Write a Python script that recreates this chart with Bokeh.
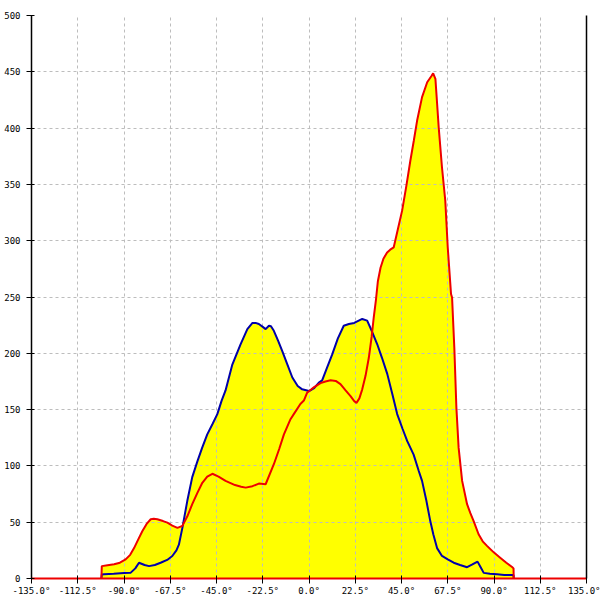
from bokeh.plotting import figure
from bokeh.models import FixedTicker, PrintfTickFormatter, LinearAxis, Range1d
from bokeh.embed import file_html
from bokeh.resources import INLINE

# ---- data (angle in degrees, count) ----
blue_x = [-101.0, -100.8, -99.7, -95, -90, -86.7, -84.5, -82.7, -80, -77.8, -75, -72.2, -69, -66.5,
          -64.5, -63.3, -61.6, -59.2, -56.8, -54.3, -52, -49.5, -47, -44.6, -42.5, -40.6, -37.3,
          -33.3, -30, -27.5, -26, -24.4, -22.5, -21.1, -19.5, -18.5, -17.1, -15, -13, -10.5, -8.1,
          -5.5, -3.3, 0, 2.5, 4.8, 6.4, 8.5, 11.3, 14, 16.9, 19.4, 22, 25.9, 28.3, 30.5, 33.2, 35.5,
          38.1, 40.5, 42.9, 45.5, 47.8, 50.9, 53.4, 55, 57, 59, 60.5, 62.3, 64.7, 67.5, 70.4, 73.5,
          76.9, 79.5, 82, 83.5, 85, 88, 91.5, 95, 98.8, 99.5, 99.6]
blue_y = [0, 3.5, 3.7, 4.2, 4.8, 5.2, 9, 14, 12, 11, 12, 14, 16.5, 20,
          25, 30, 45, 69, 90, 104, 116, 128, 137, 146, 158, 167, 190,
          208, 221.5, 227, 227, 226, 223.5, 221.5, 224.5, 224, 220, 211, 202, 190, 178.5,
          171, 168, 166.5, 169, 174, 176, 186, 199, 213, 224.5, 226, 227, 230.5, 229, 220, 208, 196,
          181.5, 164, 146, 133, 122, 110, 95.5, 86.7, 70, 51, 39, 27, 20, 17, 14, 12,
          10, 12.5, 15, 10, 5, 4.2, 3.7, 3.2, 3, 3, 0]

red_x = [-101.0, -100.8, -98, -94.8, -92, -89.2, -87, -85.1, -83, -81.1, -79, -77, -75.5, -73.8,
         -71, -68.9, -66.5, -64, -61.6, -59, -56.8, -54.3, -51.9, -49.5, -47, -44, -40.6, -36, -33,
         -30.8, -27.5, -24.4, -21.1, -17.1, -14.5, -12.2, -9, -7.4, -4.2, -2.5, -0.9, 2.5, 5.6, 8,
         10.5, 13, 15.3, 17.8, 20.2, 22, 23.1, 24.5, 25.9, 27.5, 29.1, 30.5, 31.5, 32.6, 33.5, 34.8,
         36.2, 38, 39.5, 41.2, 43.2, 45.3, 47.3, 49.3, 51, 52.6, 55, 57.5, 59.5, 60.4, 61.5, 62.2,
         63.1, 64.7, 66.3, 67.5, 69.1, 69.6, 70.7, 71.7, 72.8, 74.5, 76.9, 78.5, 80.1, 82.5, 84.5,
         86.6, 90, 93, 96, 98.8, 99.5, 99.6]
red_y = [0, 11, 11.8, 12.6, 14, 17, 21, 27, 35, 42, 48.5, 52.6, 53, 52.6,
         51, 49.6, 47, 45, 46.7, 56, 66, 76, 85, 90.5, 93, 90.5, 86.7, 83, 81.5,
         80.7, 82, 84.3, 83.7, 101.5, 115, 128, 141.5, 146, 155, 158, 165, 170, 173.5, 175,
         176, 175.5, 172.6, 167, 162, 157.5, 156, 160, 168, 180, 196, 215, 232, 248, 264, 276,
         284, 289.6, 292, 294, 310, 326.7, 348, 371, 389, 406.7, 427.5, 440.7, 446, 448.7, 443.7, 425,
         400.7, 365, 335.6, 294, 252.6, 249.6, 205, 151.8, 116, 86.7, 66, 58, 51, 39.3, 33,
         29, 23, 18.5, 14, 10.2, 9, 0]

x_ticks = [-135.0, -112.5, -90.0, -67.5, -45.0, -22.5, 0.0, 22.5, 45.0, 67.5, 90.0, 112.5, 135.0]
y_ticks = [0, 50, 100, 150, 200, 250, 300, 350, 400, 450, 500]

FONT = "DejaVu Sans Mono"

p = figure(width=600, height=600, x_range=Range1d(-135, 135), y_range=Range1d(0, 500),
           output_backend="svg", toolbar_location=None,
           min_border_left=31, min_border_right=14, min_border_top=15, min_border_bottom=22)
p.outline_line_color = None
p.background_fill_color = "white"
p.border_fill_color = "white"

# yellow areas under each series (below the grid)
p.varea(x=blue_x, y1=0, y2=blue_y, fill_color="#ffff00", level="image")
p.varea(x=red_x, y1=0, y2=red_y, fill_color="#ffff00", level="image")

p.line(blue_x, blue_y, line_color="#0000aa", line_width=2)
p.line(red_x, red_y, line_color="#ee0000", line_width=2)

# grid
for g, t in ((p.xgrid, x_ticks), (p.ygrid, y_ticks)):
    g.ticker = FixedTicker(ticks=t)
    g.grid_line_color = "#bdbdbd"
    g.grid_line_dash = "3 3"
    g.grid_line_width = 1

# axes
xa = p.xaxis[0]
xa.ticker = FixedTicker(ticks=x_ticks)
xa.formatter = PrintfTickFormatter(format="%.1f°")
xa.axis_line_color = "#ee0000"
xa.axis_line_width = 2
xa.major_tick_line_color = "black"
xa.major_tick_in = 3
xa.major_tick_out = 5
xa.minor_tick_line_color = None
xa.major_label_standoff = 2

ya = p.yaxis[0]
ya.ticker = FixedTicker(ticks=y_ticks)
ya.axis_line_color = "black"
ya.axis_line_width = 1.5
ya.major_tick_line_color = "black"
ya.major_tick_in = 3
ya.major_tick_out = 5
ya.minor_tick_line_color = None
ya.major_label_standoff = 6

for a in (xa, ya):
    a.major_label_text_font = FONT
    a.major_label_text_font_size = "9px"
    a.major_label_text_color = "black"

ra = LinearAxis(ticker=FixedTicker(ticks=[]), axis_line_color="black", axis_line_width=1.5,
                major_label_text_font_size="0px", minor_tick_line_color=None,
                major_tick_line_color=None)
p.add_layout(ra, "right")

open("out.html", "w").write(file_html(p, INLINE))
